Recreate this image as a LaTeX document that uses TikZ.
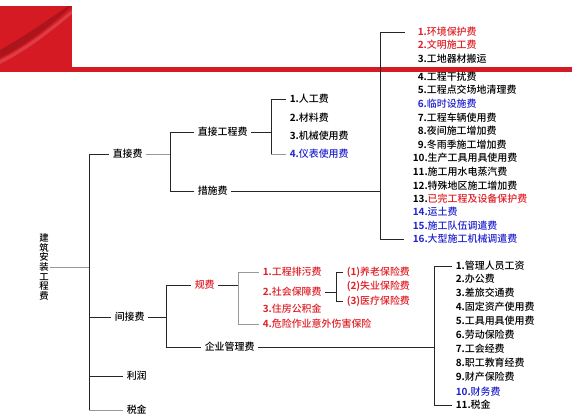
\documentclass[tikz,border=0pt]{standalone}
\usepackage{fontspec}
\setmainfont{Noto Sans CJK SC}[UprightFont={* Medium},BoldFont={* Bold}]
\definecolor{bannerred}{RGB}{214,26,36}
\definecolor{feered}{RGB}{222,32,38}
\definecolor{feeblue}{RGB}{32,34,205}
\tikzset{
  wire/.style={black!85,line width=0.7pt},
  faint/.style={black!40,line width=0.7pt},
  lab/.style={anchor=west,inner xsep=3pt,inner ysep=1pt,font=\fontsize{8.5}{10}\selectfont},
  redlab/.style={lab,text=feered},
  bluelab/.style={lab,text=feeblue},
}

\begin{document}
\begin{tikzpicture}[x=0.03cm,y=-0.03cm]
  \path[use as bounding box] (0,0) rectangle (572,419);
  % banner
  \fill[bannerred] (0,6) rectangle (72,72);
  \fill[bannerred] (0,67) rectangle (572,72);
  \fill[bannerred!65!black,opacity=0.55] (0,50) .. controls (25,36) and (45,22) .. (68,6)
    -- (72,6) .. controls (50,26) and (28,44) .. (0,58) -- cycle;
  \fill[white,opacity=0.15] (0,60) .. controls (28,46) and (50,28) .. (72,10)
    -- (72,14) .. controls (50,32) and (28,50) .. (0,64) -- cycle;

  % bracket columns
  \coordinate (b1) at (89,0);
  \coordinate (b2) at (170,0);
  \coordinate (b3) at (271,0);
  \coordinate (b4) at (380,0);
  \coordinate (b5) at (166,0);
  \coordinate (b6) at (238,0);
  \coordinate (b7) at (336,0);
  \coordinate (b8) at (434,0);

  % root
  \node[font=\fontsize{8}{8.2}\selectfont,align=center,inner sep=1pt] (root) at (44,267)
    {建\\筑\\安\\装\\工\\程\\费};

  % first level
  \node[lab] (zjf) at (109,154) {直接费};
  \node[lab] (jjf) at (111,317) {间接费};
  \node[lab] (lr) at (123,376) {利润};
  \node[lab] (sj) at (123,410) {税金};

  % direct cost
  \node[lab] (zjgcf) at (194,132) {直接工程费};
  \node[lab] (csf) at (194,191) {措施费};

  \node[lab] (r1) at (286,99) {\textbf{1.}人工费};
  \node[lab] (r2) at (286,118) {\textbf{2.}材料费};
  \node[lab] (r3) at (286,136) {\textbf{3.}机械使用费};
  \node[bluelab] (r4) at (286,154) {\textbf{4.}仪表使用费};

  \node[redlab] (c1) at (414,32) {\textbf{1.}环境保护费};
  \node[redlab] (c2) at (414,45) {\textbf{2.}文明施工费};
  \node[lab] (c3) at (414,59) {\textbf{3.}工地器材搬运};
  \node[lab] (c4) at (414,77) {\textbf{4.}工程干扰费};
  \node[lab] (c5) at (414,90) {\textbf{5.}工程点交场地清理费};
  \node[bluelab] (c6) at (414,104) {\textbf{6.}临时设施费};
  \node[lab] (c7) at (414,118) {\textbf{7.}工程车辆使用费};
  \node[lab] (c8) at (414,131) {\textbf{8.}夜间施工增加费};
  \node[lab] (c9) at (414,145) {\textbf{9.}冬雨季施工增加费};
  \node[lab] (c10) at (409,158) {\textbf{10.}生产工具用具使用费};
  \node[lab] (c11) at (409,172) {\textbf{11.}施工用水电蒸汽费};
  \node[lab] (c12) at (409,186) {\textbf{12.}特殊地区施工增加费};
  \node[lab] (c13) at (409,199) {\textbf{13.}\textcolor{feered}{已完工程及设备保护费}};
  \node[bluelab] (c14) at (409,212) {\textbf{14.}运土费};
  \node[bluelab] (c15) at (409,226) {\textbf{15.}施工队伍调遣费};
  \node[bluelab] (c16) at (409,239) {\textbf{16.}大型施工机械调遣费};

  % indirect cost
  \node[redlab] (gf) at (191,285) {规费};
  \node[lab] (qygl) at (201,347) {企业管理费};

  \node[redlab] (g1) at (259,272) {\textbf{1.}工程排污费};
  \node[redlab] (g2) at (259,292) {\textbf{2.}社会保障费};
  \node[redlab] (g3) at (259,309) {\textbf{3.}住房公积金};
  \node[redlab] (g4) at (259,324) {\textbf{4.}危险作业意外伤害保险};

  \node[redlab] (s1) at (343,272) {\textbf{(1)}养老保险费};
  \node[redlab] (s2) at (343,286) {\textbf{(2)}失业保险费};
  \node[redlab] (s3) at (343,301) {\textbf{(3)}医疗保险费};

  \node[lab] (q1) at (452,266) {\textbf{1.}管理人员工资};
  \node[lab] (q2) at (452,279) {\textbf{2.}办公费};
  \node[lab] (q3) at (452,293) {\textbf{3.}差旅交通费};
  \node[lab] (q4) at (452,307) {\textbf{4.}固定资产使用费};
  \node[lab] (q5) at (452,321) {\textbf{5.}工具用具使用费};
  \node[lab] (q6) at (452,335) {\textbf{6.}劳动保险费};
  \node[lab] (q7) at (452,349) {\textbf{7.}工会经费};
  \node[lab] (q8) at (452,363) {\textbf{8.}职工教育经费};
  \node[lab] (q9) at (452,377) {\textbf{9.}财产保险费};
  \node[bluelab] (q10) at (452,392) {\textbf{10.}财务费};
  \node[lab] (q11) at (452,405) {\textbf{11.}税金};

  % connectors
  \draw[faint] (root.east) -- (root.east -| b1);
  \draw[wire] (zjf.west) -- (zjf.west -| b1) -- (sj.west -| b1);
  \draw[faint] (sj.west -| b1) -- (sj.west);
  \draw[wire] (jjf.west) -- (jjf.west -| b1);
  \draw[wire] (lr.west) -- (lr.west -| b1);

  \draw[faint] (zjf.east) -- (zjf.east -| b2);
  \draw[wire] (zjgcf.west) -- (zjgcf.west -| b2) -- (csf.west -| b2) -- (csf.west);

  \draw[wire] (zjgcf.east) -- (zjgcf.east -| b3);
  \draw[wire] (r1.west) -- (r1.west -| b3) -- (r4.west -| b3);
  \draw[faint] (r4.west -| b3) -- (r4.west);

  \draw[wire] (csf.east) -- (csf.east -| b4);
  \draw[wire] ([xshift=-8pt]c1.west) -- (c1.west -| b4) -- (c16.west -| b4)
    -- ([xshift=-4pt]c16.west);

  \draw[wire] (jjf.east) -- (jjf.east -| b5);
  \draw[wire] (gf.west) -- (gf.west -| b5) -- (qygl.west -| b5) -- (qygl.west);

  \draw[wire] (gf.east) -- (gf.east -| b6);
  \draw[faint] (g1.west) -- (g1.west -| b6) -- (g4.west -| b6) -- (g4.west);

  \draw[wire] (g2.east) -- (g2.east -| b7);
  \draw[wire] (s1.west) -- (s1.west -| b7) -- (s3.west -| b7) -- (s3.west);

  \draw[wire] (qygl.east) -- (qygl.east -| b8);
  \draw[wire] (q1.west) -- (q1.west -| b8) -- (q11.west -| b8) -- (q11.west);
\end{tikzpicture}
\end{document}
